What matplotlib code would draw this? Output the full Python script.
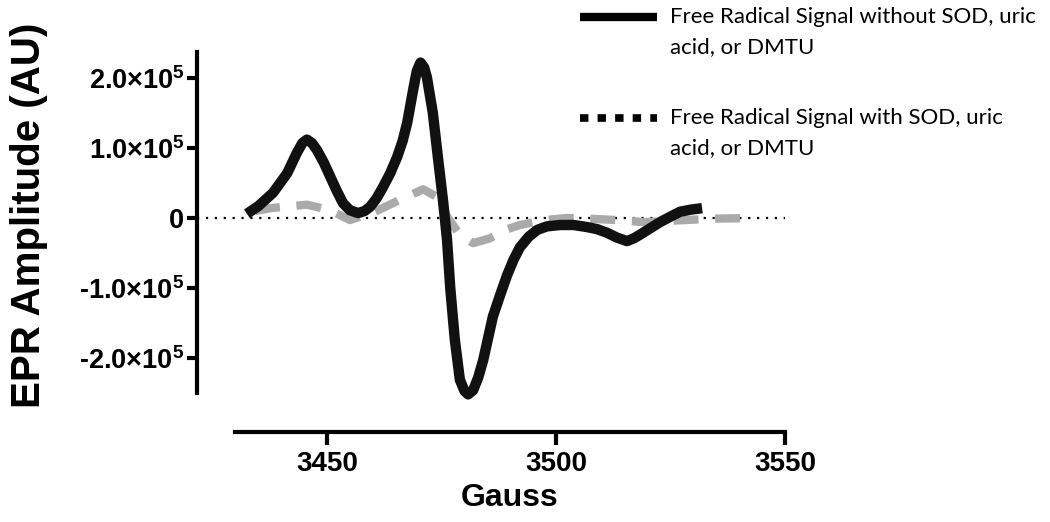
import matplotlib
matplotlib.use("Agg")
import matplotlib.pyplot as plt
from matplotlib.lines import Line2D
from matplotlib.ticker import FixedLocator, FuncFormatter

plt.rcParams['font.family'] = ['Liberation Sans', 'DejaVu Sans']
plt.rcParams['mathtext.fontset'] = 'custom'
plt.rcParams['mathtext.rm'] = 'Liberation Sans:bold'
plt.rcParams['mathtext.bf'] = 'Liberation Sans:bold'

# EPR signal without scavengers (Gauss, amplitude in units of 1e5)
gauss_ctrl = [3432.5, 3435.0, 3438.2, 3441.3, 3443.4, 3444.6, 3445.6, 3446.7,
              3447.8, 3449.3, 3450.7, 3452.1, 3453.5, 3455.0, 3456.8, 3458.2,
              3459.4, 3460.8, 3462.2, 3463.8, 3465.3, 3466.5, 3467.5, 3468.8,
              3469.6, 3470.4, 3471.2, 3471.8, 3473.1, 3474.2, 3475.3, 3476.2,
              3476.9, 3477.9, 3479.0, 3480.0, 3480.8, 3481.9, 3483.0, 3484.1,
              3486.2, 3487.8, 3489.3, 3490.7, 3492.1, 3494.0, 3495.9, 3498.0,
              3500.9, 3503.8, 3506.8, 3509.0, 3511.1, 3513.3, 3515.5, 3517.0,
              3518.3, 3520.5, 3522.7, 3525.0, 3527.1, 3529.5, 3531.9]
amp_ctrl = [0.06, 0.17, 0.36, 0.64, 0.93, 1.07, 1.12, 1.07,
            0.97, 0.79, 0.59, 0.39, 0.21, 0.11, 0.07, 0.10,
            0.16, 0.28, 0.44, 0.64, 0.87, 1.10, 1.36, 1.83,
            2.10, 2.22, 2.15, 2.01, 1.50, 0.87, 0.26, -0.31,
            -1.00, -1.74, -2.31, -2.47, -2.52, -2.46, -2.28, -2.03,
            -1.41, -1.10, -0.82, -0.60, -0.42, -0.27, -0.17, -0.12,
            -0.10, -0.10, -0.13, -0.16, -0.21, -0.28, -0.33, -0.29,
            -0.24, -0.15, -0.06, 0.02, 0.09, 0.12, 0.14]

# EPR signal with SOD, uric acid or DMTU
gauss_trt = [3434.3, 3437.6, 3445.6, 3450.7, 3455.0, 3460.5, 3465.9, 3471.0,
             3474.0, 3476.4, 3479.0, 3481.9, 3485.6, 3488.9, 3492.1, 3497.6,
             3502.4, 3507.4, 3513.3, 3519.4, 3524.9, 3534.3, 3543.4]
amp_trt = [0.10, 0.14, 0.19, 0.11, -0.03, 0.09, 0.26, 0.41,
           0.30, 0.00, -0.24, -0.36, -0.29, -0.17, -0.10, -0.03,
           0.00, -0.01, -0.03, -0.06, -0.04, -0.01, 0.00]

x_ticks = [3450, 3500, 3550]
y_ticks = [-2.0, -1.0, 0, 1.0, 2.0]

scale = 1e5
y_ctrl = [a * scale for a in amp_ctrl]
y_trt = [a * scale for a in amp_trt]

fig = plt.figure(figsize=(10.5, 5.22), dpi=100)
ax = fig.add_axes([197 / 1050, 1 - 432 / 522, 588 / 1050, 380 / 522])

ax.axhline(0, color="black", lw=1.6, linestyle=(0, (1, 3)), zorder=1)
ax.plot(gauss_trt, y_trt, color="#aaaaaa", lw=6, linestyle=(0, (3, 2)),
        dash_capstyle="butt", zorder=2)
ax.plot(gauss_ctrl, y_ctrl, color="#111111", lw=7.5, solid_joinstyle="round",
        solid_capstyle="butt", zorder=3)

ax.set_xlim(3421.6, 3550)
ax.set_ylim(-3.057e5, 2.371e5)

for s in ["top", "right"]:
    ax.spines[s].set_visible(False)
ax.spines["left"].set_linewidth(3)
ax.spines["bottom"].set_linewidth(3)
ax.spines["left"].set_bounds(-2.5e5, 2.37e5)
ax.spines["bottom"].set_bounds(3430, 3550)

ax.xaxis.set_major_locator(FixedLocator(x_ticks))
ax.yaxis.set_major_locator(FixedLocator([t * scale for t in y_ticks]))


def fmt_y(v, pos):
    if v == 0:
        return "0"
    return "%.1f$\\times$10$^{5}$" % (v / scale)


ax.yaxis.set_major_formatter(FuncFormatter(fmt_y))
ax.tick_params(axis="x", width=3, length=9, pad=5, labelsize=20)
ax.tick_params(axis="y", width=3, length=7, pad=2, labelsize=19.5)
for lab in ax.get_xticklabels() + ax.get_yticklabels():
    lab.set_fontweight("bold")

ax.set_xlabel("Gauss", fontsize=23, fontweight="bold")
ax.set_ylabel("EPR Amplitude (AU)", fontsize=29, fontweight="bold")
ax.xaxis.set_label_coords((510 - 197) / 588, -0.135)
ax.yaxis.set_label_coords((48 - 197) / 588, (432 - 215) / 380)

# legend drawn by hand to keep the handle next to the first text line
legend_items = [
    ("Free Radical Signal without SOD, uric\nacid, or DMTU", "-"),
    ("Free Radical Signal with SOD, uric\nacid, or DMTU", (0, (1.1, 1.2))),
]
for i, (label, ls) in enumerate(legend_items):
    y_px = 17 + i * 101
    yf = 1 - y_px / 522
    fig.add_artist(Line2D([580 / 1050, 657 / 1050], [yf, yf], color="black",
                          lw=6 if ls == "-" else 5.5, linestyle=ls,
                          solid_capstyle="butt", dash_capstyle="butt",
                          transform=fig.transFigure))
    fig.text(670 / 1050, 1 - (y_px - 10) / 522, label, fontsize=16,
             family=["Lato", "DejaVu Sans"], va="top", ha="left",
             linespacing=1.65)

fig.savefig("out.png", dpi=100)
